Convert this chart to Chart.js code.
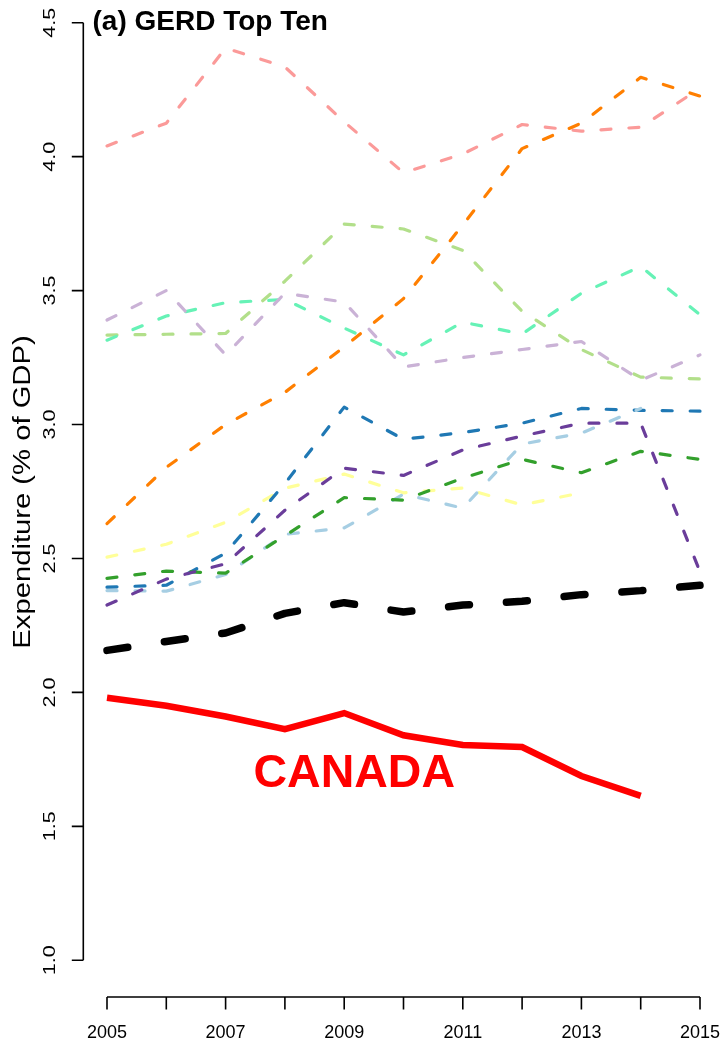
<!DOCTYPE html>
<html>
<head>
<meta charset="utf-8">
<script src="https://cdn.jsdelivr.net/npm/chart.js@4.4.1/dist/chart.umd.min.js"></script>
<style>
  html, body { margin: 0; padding: 0; background: #ffffff; }
  #wrap { position: relative; width: 723px; height: 1043px; }
</style>
</head>
<body>
<div id="wrap"><canvas id="c"></canvas></div>
<script>
// ---- data ----
const years = [2005, 2006, 2007, 2008, 2009, 2010, 2011, 2012, 2013, 2014, 2015];
const xTickLabels = ["2005", "2007", "2009", "2011", "2013", "2015"];
const yTicks = [1.0, 1.5, 2.0, 2.5, 3.0, 3.5, 4.0, 4.5];

const canada     = [1.98, 1.95, 1.91, 1.863, 1.923, 1.84, 1.804, 1.796, 1.688, 1.614, null];
const oecdAvg    = [2.157, 2.19, 2.222, 2.295, 2.335, 2.30, 2.326, 2.34, 2.365, 2.38, 2.40];
const pink       = [4.04, 4.125, 4.405, 4.335, 4.13, 3.94, 4.01, 4.12, 4.095, 4.11, 4.255];
const orange     = [2.63, 2.84, 3.0, 3.12, 3.29, 3.47, 3.745, 4.03, 4.125, 4.296, 4.226];
const lightGreen = [3.334, 3.337, 3.34, 3.535, 3.748, 3.73, 3.65, 3.423, 3.28, 3.177, 3.17];
const aqua       = [3.315, 3.405, 3.455, 3.467, 3.36, 3.26, 3.382, 3.338, 3.49, 3.59, 3.41];
const lilac      = [3.39, 3.50, 3.26, 3.49, 3.457, 3.215, 3.25, 3.28, 3.31, 3.165, 3.26];
const blue       = [2.393, 2.40, 2.52, 2.78, 3.065, 2.945, 2.97, 3.005, 3.06, 3.053, 3.05];
const purple     = [2.326, 2.423, 2.48, 2.68, 2.837, 2.81, 2.905, 2.957, 3.005, 3.005, 2.45];
const green      = [2.426, 2.453, 2.445, 2.585, 2.727, 2.718, 2.80, 2.87, 2.82, 2.90, 2.87];
const lightBlue  = [2.38, 2.378, 2.44, 2.59, 2.614, 2.74, 2.688, 2.927, 2.968, 3.06, null];
const yellow     = [2.505, 2.553, 2.635, 2.762, 2.815, 2.745, 2.763, 2.70, 2.745, null, null];

const titleText = "(a) GERD Top Ten";
const yTitle = "Expenditure (% of GDP)";
const canadaLabel = "CANADA";
const canadaLabelAt = { year: 2009.17, value: 1.648 };

// ---- build chart ----
function pts(arr) { return years.map((y, i) => ({ x: y, y: arr[i] })); }

const FONT = '"Liberation Sans", Arial, Helvetica, sans-serif';

function dashed(label, arr, color) {
  return {
    label, data: pts(arr), borderColor: color, backgroundColor: color,
    borderWidth: 3.2, borderDash: [10, 18], borderCapStyle: 'round',
    borderJoinStyle: 'round', pointRadius: 0, tension: 0, spanGaps: false, clip: false
  };
}

const datasets = [
  { label: 'Canada', data: pts(canada), borderColor: '#ff0000', borderWidth: 6.5,
    borderCapStyle: 'butt', borderJoinStyle: 'miter', pointRadius: 0, tension: 0, clip: false },
  { label: 'OECD', data: pts(oecdAvg), borderColor: '#000000', borderWidth: 7.5,
    borderDash: [21, 37], borderCapStyle: 'round', borderJoinStyle: 'round',
    pointRadius: 0, tension: 0, clip: false },
  dashed('Purple', purple, '#6a3d9a'),
  dashed('Green', green, '#33a02c'),
  dashed('LightBlue', lightBlue, '#a6cee3'),
  dashed('Blue', blue, '#1f78b4'),
  dashed('Yellow', yellow, '#ffff99'),
  dashed('Lilac', lilac, '#cab2d6'),
  dashed('Aqua', aqua, '#66f2b6'),
  dashed('LightGreen', lightGreen, '#b2df8a'),
  dashed('Orange', orange, '#ff7f00'),
  dashed('Pink', pink, '#fb9a99')
];

const axesPlugin = {
  id: 'rAxes',
  afterDraw(chart) {
    const ctx = chart.ctx;
    const xs = chart.scales.x, ys = chart.scales.y;
    ctx.save();
    ctx.strokeStyle = '#000';
    ctx.fillStyle = '#000';
    ctx.lineWidth = 1.6;
    ctx.lineCap = 'butt';

    // y axis
    const yAxisX = 83.3;
    const yTop = ys.getPixelForValue(yTicks[yTicks.length - 1]);
    const yBot = ys.getPixelForValue(yTicks[0]);
    ctx.beginPath();
    ctx.moveTo(yAxisX, yTop); ctx.lineTo(yAxisX, yBot);
    yTicks.forEach(v => {
      const p = ys.getPixelForValue(v);
      ctx.moveTo(yAxisX, p); ctx.lineTo(yAxisX - 11.5, p);
    });
    ctx.stroke();
    ctx.font = '17px ' + FONT;
    ctx.textAlign = 'center';
    ctx.textBaseline = 'middle';
    yTicks.forEach(v => {
      const p = ys.getPixelForValue(v);
      ctx.save();
      ctx.translate(50, p);
      ctx.rotate(-Math.PI / 2);
      ctx.scale(1.27, 1);
      ctx.fillText(v.toFixed(1), 0, 0);
      ctx.restore();
    });

    // x axis
    const xAxisY = 997;
    const xL = xs.getPixelForValue(years[0]);
    const xR = xs.getPixelForValue(years[years.length - 1]);
    ctx.beginPath();
    ctx.moveTo(xL, xAxisY); ctx.lineTo(xR, xAxisY);
    years.forEach(yr => {
      const p = xs.getPixelForValue(yr);
      ctx.moveTo(p, xAxisY); ctx.lineTo(p, xAxisY + 12.5);
    });
    ctx.stroke();
    ctx.font = '18px ' + FONT;
    ctx.textAlign = 'center';
    ctx.textBaseline = 'alphabetic';
    xTickLabels.forEach(t => {
      ctx.fillText(t, xs.getPixelForValue(Number(t)), 1038);
    });

    // y title
    ctx.save();
    ctx.font = '23px ' + FONT;
    ctx.translate(23.5, 492);
    ctx.rotate(-Math.PI / 2);
    ctx.scale(1.27, 1);
    ctx.textAlign = 'center';
    ctx.textBaseline = 'middle';
    ctx.fillText(yTitle, 0, 0);
    ctx.restore();

    // panel title
    ctx.font = 'bold 28px ' + FONT;
    ctx.textAlign = 'left';
    ctx.textBaseline = 'alphabetic';
    ctx.fillText(titleText, 92.5, 30);

    // CANADA label
    ctx.fillStyle = '#ff0000';
    ctx.font = 'bold 46.5px ' + FONT;
    ctx.textAlign = 'center';
    ctx.fillText(canadaLabel, xs.getPixelForValue(canadaLabelAt.year), ys.getPixelForValue(canadaLabelAt.value));
    ctx.restore();
  }
};

new Chart(document.getElementById('c'), {
  type: 'line',
  data: { datasets },
  options: {
    responsive: true,
    maintainAspectRatio: false,
    animation: false,
    events: [],
    layout: { padding: { left: 107, right: 23, top: 22.7, bottom: 82.7 } },
    plugins: { legend: { display: false }, tooltip: { enabled: false }, title: { display: false } },
    scales: {
      x: { type: 'linear', min: years[0], max: years[years.length - 1], display: false },
      y: { type: 'linear', min: yTicks[0], max: yTicks[yTicks.length - 1], display: false }
    }
  },
  plugins: [axesPlugin]
});
</script>
</body>
</html>
